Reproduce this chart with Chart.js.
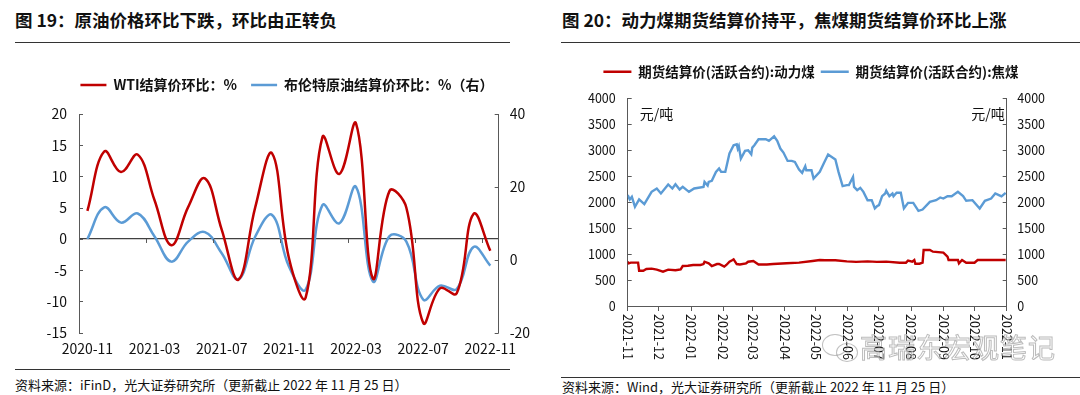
<!DOCTYPE html>
<html lang="zh-CN">
<head>
<meta charset="utf-8">
<title>原油价格环比与煤炭期货结算价</title>
<script src="https://cdn.jsdelivr.net/npm/chart.js@4.4.0/dist/chart.umd.min.js"></script>
<style>
  html, body { margin: 0; padding: 0; background: #fff; }
  body { width: 1080px; height: 395px; position: relative; overflow: hidden;
         font-family: "Noto Sans CJK SC", sans-serif; color: #111; }
  .title { position: absolute; top: 8px; font-size: 17.5px; font-weight: bold; line-height: 24px; white-space: nowrap; }
  .rule { position: absolute; height: 0; border-top: 1.5px solid #333; }
  .source { position: absolute; font-size: 13px; line-height: 16px; white-space: nowrap; }
  .box { position: absolute; }
  .mark { position: absolute; left: 860px; top: 330px; font-size: 27px; line-height: 34px; letter-spacing: 1px;
          color: rgba(255,255,255,0.55); -webkit-text-stroke: 1px rgba(120,120,120,0.5); white-space: nowrap; }
  .bubble { position: absolute; border: 1.5px solid rgba(130,130,130,0.5); border-radius: 50%; }
</style>
</head>
<body>
<div class="title" style="left:15px">图 19：原油价格环比下跌，环比由正转负</div>
<div class="rule" style="left:15px;top:42px;width:495px"></div>
<div class="title" style="left:562px">图 20：动力煤期货结算价持平，焦煤期货结算价环比上涨</div>
<div class="rule" style="left:561px;top:42px;width:519px"></div>

<div class="box" style="left:0;top:60px;width:540px;height:305px"><canvas id="oilChart"></canvas></div>
<div class="box" style="left:550px;top:50px;width:522px;height:320px"><canvas id="coalChart"></canvas></div>

<div class="rule" style="left:15px;top:369px;width:495px"></div>
<div class="source" style="left:15px;top:377px">资料来源：iFinD，光大证券研究所（更新截止 2022 年 11 月 25 日）</div>
<div class="rule" style="left:561px;top:377px;width:519px"></div>
<div class="source" style="left:562px;top:379px">资料来源：Wind，光大证券研究所（更新截止 2022 年 11 月 25 日）</div>

<div class="bubble" style="left:822px;top:334px;width:24px;height:20px"></div>
<div class="bubble" style="left:836px;top:343px;width:20px;height:17px"></div>
<div class="mark">高瑞东宏观笔记</div>

<script>
// ---- 图19 数据：月度环比（%）----
const oilMonths = [
  '2020-11', '2020-12', '2021-01', '2021-02', '2021-03', '2021-04', '2021-05',
  '2021-06', '2021-07', '2021-08', '2021-09', '2021-10', '2021-11', '2021-12',
  '2022-01', '2022-02', '2022-03', '2022-04', '2022-05', '2022-06', '2022-07',
  '2022-08', '2022-09', '2022-10', '2022-11'
];
const wtiMoM = [4.5, 14.0, 10.7, 13.5, 6.2, -1.0, 5.1, 9.7, 1.5, -6.5, 5.1, 13.7, -3.0,
  -9.4, 16.3, 10.4, 18.5, -6.3, 7.7, 5.0, -13.4, -7.9, -8.7, 4.0, -1.9];
const brentMoM = [5.7, 14.4, 10.2, 12.7, 6.4, -0.5, 5.0, 7.6, 1.8, -5.3, 6.4, 12.3, -1.8,
  -8.2, 15.0, 10.0, 20.0, -5.9, 6.5, 5.0, -10.9, -7.1, -8.0, 3.5, -1.6];

// ---- 图20 数据：期货结算价（元/吨）----
const coalMonthLabels = ['2021-11', '2021-12', '2022-01', '2022-02', '2022-03', '2022-04', '2022-05',
  '2022-06', '2022-07', '2022-08', '2022-09', '2022-10', '2022-11'];

const cokingDates = [
  '2021-11-01', '2021-11-03', '2021-11-05', '2021-11-08', '2021-11-12', '2021-11-17', '2021-11-24',
  '2021-11-29', '2021-12-03', '2021-12-10', '2021-12-14', '2021-12-17', '2021-12-21', '2021-12-24',
  '2021-12-30', '2022-01-04', '2022-01-13', '2022-01-14', '2022-01-17', '2022-01-18', '2022-01-21',
  '2022-01-25', '2022-01-28', '2022-01-30', '2022-02-03', '2022-02-07', '2022-02-11', '2022-02-14',
  '2022-02-15', '2022-02-16', '2022-02-18', '2022-02-22', '2022-02-25', '2022-02-28', '2022-03-01',
  '2022-03-03', '2022-03-07', '2022-03-14', '2022-03-17', '2022-03-22', '2022-03-25', '2022-03-28',
  '2022-03-31', '2022-04-04', '2022-04-08', '2022-04-11', '2022-04-15', '2022-04-18', '2022-04-21',
  '2022-04-22', '2022-04-27', '2022-04-29', '2022-05-05', '2022-05-09', '2022-05-13', '2022-05-20',
  '2022-05-23', '2022-05-27', '2022-05-31', '2022-06-02', '2022-06-06', '2022-06-07', '2022-06-10',
  '2022-06-13', '2022-06-16', '2022-06-20', '2022-06-24', '2022-06-27', '2022-06-29', '2022-07-01',
  '2022-07-04', '2022-07-07', '2022-07-08', '2022-07-11', '2022-07-14', '2022-07-15', '2022-07-18',
  '2022-07-22', '2022-07-25', '2022-07-29', '2022-08-03', '2022-08-08', '2022-08-12', '2022-08-19',
  '2022-08-25', '2022-08-29', '2022-09-01', '2022-09-05', '2022-09-09', '2022-09-15', '2022-09-20',
  '2022-09-23', '2022-09-29', '2022-10-06', '2022-10-11', '2022-10-17', '2022-10-21', '2022-10-25',
  '2022-10-27', '2022-10-31'
];
const cokingPrice = [
  2135, 2052, 2102, 1910, 2052, 1961, 2198,
  2263, 2167, 2340, 2263, 2346, 2244, 2294,
  2198, 2263, 2294, 2390, 2320, 2390, 2410,
  2583, 2648, 2583, 2583, 2937, 3096, 3115,
  3032, 3080, 2840, 2987, 3000, 2923, 3050,
  3096, 3211, 3211, 3180, 3269, 3180, 3032,
  2955, 2794, 2794, 2775, 2629, 2564, 2692,
  2615, 2615, 2455, 2583, 2756, 2917, 2821,
  2583, 2308, 2327, 2327, 2487, 2294, 2231,
  2276, 2198, 2038, 2038, 1879, 1920, 1942,
  2115, 2167, 2218, 2115, 2167, 2115, 2180,
  2180, 1879, 1987, 1987, 1833, 1858, 2006,
  2038, 2090, 2070, 2115, 2115, 2198, 2115,
  2026, 2038, 1879, 2026, 2070, 2167, 2130,
  2110, 2180
];

const thermalDates = [
  '2021-11-01', '2021-11-02', '2021-11-04', '2021-11-11', '2021-11-12', '2021-11-16', '2021-11-19',
  '2021-11-24', '2021-11-29', '2021-12-05', '2021-12-10', '2021-12-17', '2021-12-22', '2021-12-24',
  '2021-12-29', '2022-01-03', '2022-01-10', '2022-01-13', '2022-01-14', '2022-01-18', '2022-01-21',
  '2022-01-26', '2022-01-28', '2022-02-02', '2022-02-04', '2022-02-07', '2022-02-10', '2022-02-11',
  '2022-02-14', '2022-02-17', '2022-02-23', '2022-02-25', '2022-03-02', '2022-03-07', '2022-03-15',
  '2022-03-21', '2022-04-03', '2022-04-15', '2022-04-28', '2022-05-05', '2022-05-10', '2022-05-20',
  '2022-05-31', '2022-06-09', '2022-06-20', '2022-06-29', '2022-07-08', '2022-07-21', '2022-07-27',
  '2022-07-29', '2022-08-02', '2022-08-04', '2022-08-05', '2022-08-09', '2022-08-12', '2022-08-13',
  '2022-08-19', '2022-08-22', '2022-09-01', '2022-09-05', '2022-09-06', '2022-09-15', '2022-09-16',
  '2022-09-19', '2022-09-23', '2022-10-01', '2022-10-04', '2022-10-31'
];
const thermalPrice = [
  853, 822, 835, 835, 680, 680, 712,
  720, 700, 661, 700, 690, 705, 770,
  776, 790, 790, 808, 853, 822, 770,
  808, 808, 757, 790, 853, 886, 898,
  808, 800, 822, 853, 867, 800, 800,
  808, 822, 835, 867, 886, 880, 880,
  860, 850, 860, 850, 855, 834, 834,
  873, 854, 886, 815, 815, 834, 1078,
  1078, 1046, 1027, 950, 886, 886, 822,
  886, 834, 834, 886, 886
];

const RED = '#C00000';
const BLUE = '#5B9BD5';
const AXIS = '#595959';

Chart.defaults.font.family = '"Noto Sans CJK SC", sans-serif';
Chart.defaults.color = '#111';

const coalStart = Date.UTC(2021, 10, 1);
function dayOffset(s) {
  const [y, m, d] = s.split('-').map(Number);
  return (Date.UTC(y, m - 1, d || 1) - coalStart) / 86400000;
}
function toPoints(dates, values) {
  return dates.map((d, i) => ({ x: dayOffset(d), y: values[i] }));
}
const plainNumber = v => String(v);

// legend sample drawn as a flat line of the series colour
function lineLabels(chart) {
  return Chart.defaults.plugins.legend.labels.generateLabels(chart)
    .map(item => Object.assign(item, { lineWidth: 0, fillStyle: item.strokeStyle }));
}

// extra room between the legend and the plot area
const legendGap = {
  id: 'legendGap',
  beforeLayout(chart, args, opts) {
    const lg = chart.legend;
    if (lg && !lg._gapPatched) {
      const fit = lg.fit;
      lg.fit = function () { fit.call(this); this.height += opts.gap || 0; };
      lg._gapPatched = true;
    }
  }
};

// inward tick marks on the value axes, and category marks on the zero line
const tickMarks = {
  id: 'tickMarks',
  afterDatasetsDraw(chart, args, opts) {
    const ctx = chart.ctx;
    const len = opts.length || 4;
    ctx.save();
    ctx.strokeStyle = AXIS;
    ctx.lineWidth = 1;
    ctx.beginPath();
    ['y', 'y1'].forEach(id => {
      const s = chart.scales[id];
      if (!s) return;
      const left = s.position === 'left';
      const x0 = left ? s.right : s.left;
      s.ticks.forEach(t => {
        const y = Math.round(s.getPixelForValue(t.value)) + 0.5;
        ctx.moveTo(x0, y);
        ctx.lineTo(x0 + (left ? len : -len), y);
      });
    });
    if (opts.zeroEvery) {
      const xs = chart.scales.x;
      const y0 = chart.scales.y.getPixelForValue(0);
      const half = (xs.getPixelForValue(1) - xs.getPixelForValue(0)) / 2;
      xs.ticks.forEach((t, i) => {
        if (i > 0 && i % opts.zeroEvery === 0) {
          const x = Math.round(xs.getPixelForValue(i) - half) + 0.5;
          ctx.moveTo(x, y0);
          ctx.lineTo(x, y0 + len);
        }
      });
    }
    ctx.stroke();
    ctx.restore();
  }
};

// month labels written top-to-bottom under the date axis, plus unit labels
const coalText = {
  id: 'coalText',
  afterDraw(chart) {
    const ctx = chart.ctx;
    const xs = chart.scales.x;
    const area = chart.chartArea;
    ctx.save();
    ctx.fillStyle = '#111';
    ctx.font = '12.5px "Noto Sans CJK SC", sans-serif';
    ctx.textAlign = 'left';
    ctx.textBaseline = 'middle';
    coalMonthLabels.forEach(label => {
      const x = xs.getPixelForValue(dayOffset(label));
      ctx.save();
      ctx.translate(x, area.bottom + 8);
      ctx.rotate(Math.PI / 2);
      ctx.fillText(label, 0, 0);
      ctx.restore();
    });
    ctx.font = '14px "Noto Sans CJK SC", sans-serif';
    ctx.fillText('元/吨', area.left + 12, area.top + 15);
    ctx.textAlign = 'right';
    ctx.fillText('元/吨', area.right - 2, area.top + 15);
    ctx.restore();
  }
};

new Chart(document.getElementById('oilChart'), {
  type: 'line',
  data: {
    labels: oilMonths,
    datasets: [
      { label: 'WTI结算价环比：%', data: wtiMoM, yAxisID: 'y',
        borderColor: RED, backgroundColor: RED, borderWidth: 2.5, pointRadius: 0, tension: 0.4 },
      { label: '布伦特原油结算价环比：%（右）', data: brentMoM, yAxisID: 'y1',
        borderColor: BLUE, backgroundColor: BLUE, borderWidth: 2.5, pointRadius: 0, tension: 0.4 }
    ]
  },
  plugins: [legendGap, tickMarks],
  options: {
    responsive: true,
    maintainAspectRatio: false,
    animation: false,
    layout: { padding: { left: 34, right: 0, top: 4, bottom: 0 } },
    plugins: {
      legend: {
        position: 'top',
        labels: { boxWidth: 26, boxHeight: 2.5, padding: 14, color: '#111',
                  font: { size: 14, weight: 'bold' }, generateLabels: lineLabels }
      },
      legendGap: { gap: 12 },
      tickMarks: { length: 4, zeroEvery: 4 },
      tooltip: { enabled: false }
    },
    scales: {
      x: {
        type: 'category',
        offset: true,
        grid: { display: false, drawTicks: false },
        border: { display: false },
        ticks: {
          autoSkip: false, maxRotation: 0, padding: 8, font: { size: 14 },
          callback(value, index) { return index % 4 === 0 ? this.getLabelForValue(value) : ''; }
        },
        afterFit(s) { s.height = 32.3; }
      },
      y: {
        position: 'left', min: -15, max: 20,
        ticks: { stepSize: 5, padding: 12, font: { size: 14 }, callback: plainNumber },
        grid: { drawTicks: false, lineWidth: 1.2,
                color: c => (c.tick && c.tick.value === 0 ? '#404040' : 'transparent') },
        border: { color: AXIS },
        afterFit(s) { s.width = 45; }
      },
      y1: {
        position: 'right', min: -20, max: 40,
        ticks: { stepSize: 20, padding: 11, font: { size: 14 }, callback: plainNumber },
        grid: { display: false, drawTicks: false },
        border: { color: AXIS },
        afterFit(s) { s.width = 41.3; }
      }
    }
  }
});

new Chart(document.getElementById('coalChart'), {
  type: 'line',
  data: {
    datasets: [
      { label: '期货结算价(活跃合约):动力煤', data: toPoints(thermalDates, thermalPrice), yAxisID: 'y',
        borderColor: RED, backgroundColor: RED, borderWidth: 2.4, pointRadius: 0, tension: 0 },
      { label: '期货结算价(活跃合约):焦煤', data: toPoints(cokingDates, cokingPrice), yAxisID: 'y1',
        borderColor: BLUE, backgroundColor: BLUE, borderWidth: 2.4, pointRadius: 0, tension: 0 }
    ]
  },
  plugins: [legendGap, tickMarks, coalText],
  options: {
    responsive: true,
    maintainAspectRatio: false,
    animation: false,
    layout: { padding: { left: 0, right: 0, top: 9, bottom: 0 } },
    plugins: {
      legend: {
        position: 'top',
        labels: { boxWidth: 28, boxHeight: 2.5, padding: 6, color: '#111',
                  font: { size: 13.5, weight: 'bold' }, generateLabels: lineLabels }
      },
      legendGap: { gap: 9.8 },
      tickMarks: { length: 4 },
      tooltip: { enabled: false }
    },
    scales: {
      x: {
        type: 'linear', min: 0, max: dayOffset('2022-11-01'),
        afterBuildTicks(s) { s.ticks = coalMonthLabels.map(l => ({ value: dayOffset(l) })); },
        ticks: { display: false },
        grid: { drawOnChartArea: false, drawTicks: true, tickLength: 5, color: AXIS },
        border: { color: AXIS },
        afterFit(s) { s.height = 64; }
      },
      y: {
        position: 'left', min: 0, max: 4000,
        ticks: { stepSize: 500, padding: 12, font: { size: 12.5 }, callback: plainNumber },
        grid: { display: false, drawTicks: false },
        border: { color: AXIS },
        afterFit(s) { s.width = 77.7; }
      },
      y1: {
        position: 'right', min: 0, max: 4000,
        ticks: { stepSize: 500, padding: 10.6, font: { size: 12.5 }, callback: plainNumber },
        grid: { display: false, drawTicks: false },
        border: { color: AXIS },
        afterFit(s) { s.width = 65.3; }
      }
    }
  }
});
</script>
</body>
</html>
